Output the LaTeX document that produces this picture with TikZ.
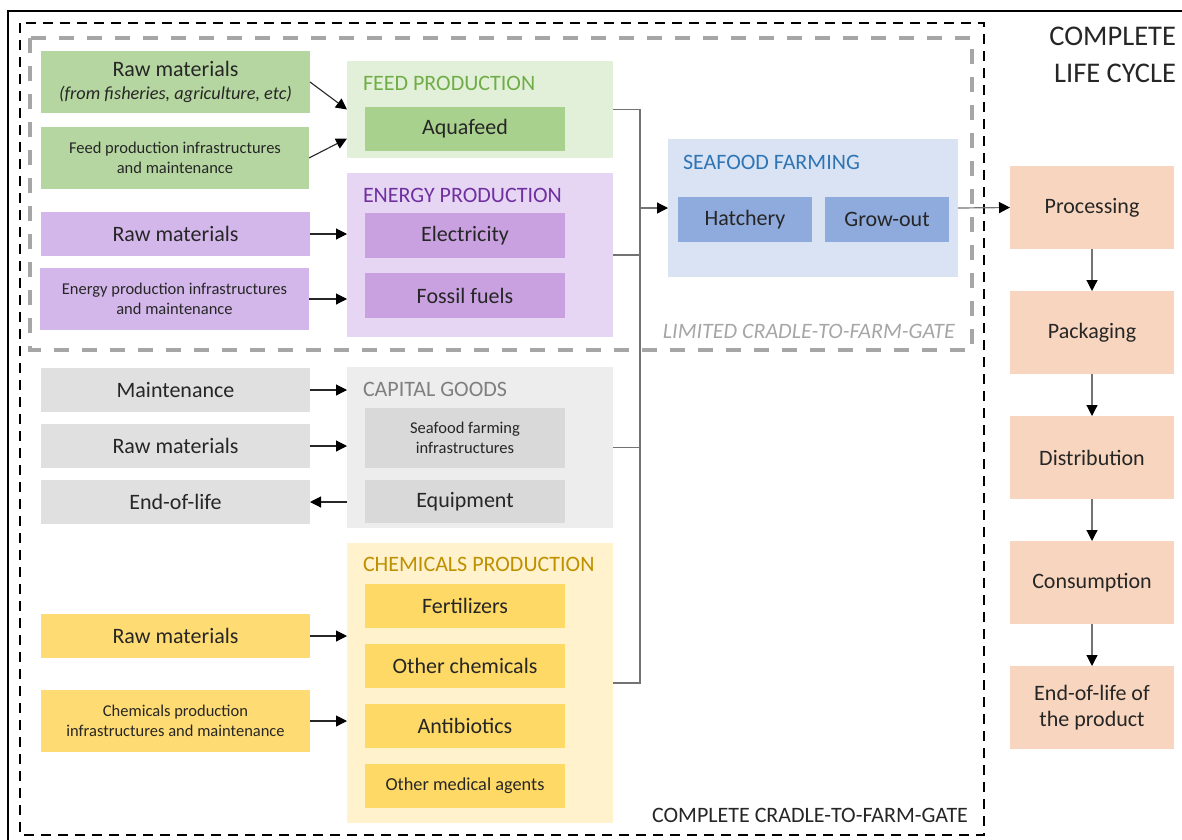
\documentclass[tikz,border=0pt]{standalone}
\usepackage{fontspec}
\setmainfont{Carlito}
\usepackage{xcolor}
\usetikzlibrary{calc}
\usetikzlibrary{positioning}
\usetikzlibrary{arrows.meta}

\definecolor{ink}{HTML}{262626}
\definecolor{feedleft}{HTML}{B5D6A0}
\definecolor{feedbox}{HTML}{A9D18E}
\definecolor{feedbg}{HTML}{E2F0D9}
\definecolor{feedink}{HTML}{70AD47}
\definecolor{energyleft}{HTML}{D4B7EA}
\definecolor{energybox}{HTML}{C9A1E0}
\definecolor{energybg}{HTML}{E6D6F4}
\definecolor{energyink}{HTML}{7030A0}
\definecolor{farmbg}{HTML}{DAE3F3}
\definecolor{farmbox}{HTML}{8FAADC}
\definecolor{farmink}{HTML}{2E75B6}
\definecolor{capleft}{HTML}{E0E0E0}
\definecolor{capbox}{HTML}{D9D9D9}
\definecolor{capbg}{HTML}{EDEDED}
\definecolor{capink}{HTML}{7F7F7F}
\definecolor{chemleft}{HTML}{FFDC73}
\definecolor{chembox}{HTML}{FFD966}
\definecolor{chembg}{HTML}{FFF2CC}
\definecolor{chemink}{HTML}{BF9000}
\definecolor{lifebox}{HTML}{F8D5BE}
\definecolor{limitgray}{HTML}{A6A6A6}

\begin{document}
\begin{tikzpicture}[x=1pt,y=-1pt,
	every node/.style={inner sep=0pt,outer sep=0pt,text=ink,font=\fontsize{22}{26}\selectfont},
	box/.style={align=center},
	small/.style={font=\fontsize{16.5}{20}\selectfont},
	grouplabel/.style={anchor=west,font=\fontsize{22}{26}\selectfont},
	arr/.style={draw=black!85,line width=1.1pt,-{Triangle[length=11pt,width=11pt,color=black]}},
	tree/.style={draw=black!55,line width=1.2pt},
	tip/.style={-{Triangle[length=11pt,width=11pt,color=black]}}]
	\useasboundingbox (0,0) rectangle (1182,839);
	
	% frames
	\draw[line width=2.8pt] (8,11) rectangle (1200,860);
	\draw[line width=2.5pt,dash pattern=on 10pt off 7pt] (20,23) rectangle (984,835);
	\draw[limitgray,line width=3.5pt,dash pattern=on 15pt off 13pt] (30,38) rectangle (972,350);
	
	% feed production
	\node[fill=feedbg,minimum width=266,minimum height=97] (feed) at (480,109.5) {};
	\node[grouplabel,text=feedink] at ($(feed.north west)+(16,22.5)$) {FEED PRODUCTION};
	\node[box,fill=feedbox,minimum width=200,minimum height=44] (aquafeed) at (465,129) {Aquafeed};
	\node[box,fill=feedleft,minimum width=269,minimum height=62] (feed raw) at (175.5,82) {\raisebox{-3pt}{Raw materials}\\[0pt]{\fontsize{18.3}{22}\selectfont\itshape (from fisheries, agriculture, etc)}};
	\node[box,small,fill=feedleft,minimum width=268,minimum height=62] (feed infra) at (175,158) {Feed production infrastructures\\and maintenance};
	
	% energy production
	\node[fill=energybg,minimum width=266,minimum height=164] (energy) at (480,255) {};
	\node[grouplabel,text=energyink] at ($(energy.north west)+(16,22.5)$) {ENERGY PRODUCTION};
	\node[box,fill=energybox,minimum width=200,minimum height=45] (electricity) at (465,235.5) {Electricity};
	\node[box,fill=energybox,minimum width=200,minimum height=45,below=15pt of electricity] (fossil) {Fossil fuels};
	\node[box,fill=energyleft,minimum width=269,minimum height=44] (energy raw) at (175.5,234) {Raw materials};
	\node[box,small,fill=energyleft,minimum width=269,minimum height=62] (energy infra) at (174.5,299) {Energy production infrastructures\\and maintenance};
	
	% seafood farming
	\node[fill=farmbg,minimum width=290,minimum height=138] (farming) at (813,208) {};
	\node[grouplabel,text=farmink] at ($(farming.north west)+(15,23)$) {SEAFOOD FARMING};
	\node[box,fill=farmbox,minimum width=134,minimum height=45] (hatchery) at (745,219.5) {Hatchery};
	\node[box,fill=farmbox,minimum width=124,minimum height=45] (growout) at (887,219.5) {Grow-out};
	
	% capital goods
	\node[fill=capbg,minimum width=266,minimum height=161] (capital) at (480,447.5) {};
	\node[grouplabel,text=capink] at ($(capital.north west)+(16,22.5)$) {CAPITAL GOODS};
	\node[box,small,fill=capbox,minimum width=200,minimum height=60] (farm infra) at (465,438) {Seafood farming\\infrastructures};
	\node[box,fill=capbox,minimum width=200,minimum height=43] (equipment) at (465,501.5) {Equipment};
	\node[box,fill=capleft,minimum width=269,minimum height=44] (maintenance) at (175.5,390) {Maintenance};
	\node[box,fill=capleft,minimum width=269,minimum height=44,below=12pt of maintenance] (cap raw) {Raw materials};
	\node[box,fill=capleft,minimum width=269,minimum height=44,below=12pt of cap raw] (cap eol) {End-of-life};
	
	% chemicals production
	\node[fill=chembg,minimum width=266,minimum height=280] (chem) at (480,683) {};
	\node[grouplabel,text=chemink] at ($(chem.north west)+(16,21.5)$) {CHEMICALS PRODUCTION};
	\node[box,fill=chembox,minimum width=200,minimum height=44] (fertilizers) at (465,606) {Fertilizers};
	\node[box,fill=chembox,minimum width=200,minimum height=44,below=16pt of fertilizers] (other chem) {Other chemicals};
	\node[box,fill=chembox,minimum width=200,minimum height=44,below=16pt of other chem] (antibiotics) {Antibiotics};
	\node[box,fill=chembox,minimum width=200,minimum height=44,below=16pt of antibiotics,font=\fontsize{18.3}{22}\selectfont] (medical) {Other medical agents};
	\node[box,fill=chemleft,minimum width=269,minimum height=44] (chem raw) at (175.5,636) {Raw materials};
	\node[box,small,fill=chemleft,minimum width=269,minimum height=62] (chem infra) at (175.5,721) {Chemicals production\\infrastructures and maintenance};
	
	% complete life cycle
	\node[box,fill=lifebox,minimum width=164,minimum height=83] (processing) at (1092,207.5) {Processing};
	\node[box,fill=lifebox,minimum width=164,minimum height=83,below=42pt of processing] (packaging) {Packaging};
	\node[box,fill=lifebox,minimum width=164,minimum height=83,below=42pt of packaging] (distribution) {Distribution};
	\node[box,fill=lifebox,minimum width=164,minimum height=83,below=42pt of distribution] (consumption) {Consumption};
	\node[box,fill=lifebox,minimum width=164,minimum height=83,below=42pt of consumption] (eol product) {End-of-life of\\the product};
	
	% boundary labels
	\node[anchor=north east,align=right,font=\fontsize{28.5}{36.7}\selectfont] (life cycle) at (1176,27.5) {COMPLETE\\LIFE CYCLE};
	\node[anchor=east] (complete gate) at (968,815) {COMPLETE CRADLE-TO-FARM-GATE};
	\node[anchor=east,text=limitgray,font=\fontsize{22}{26}\selectfont\itshape] (limited gate) at (955,331) {LIMITED CRADLE-TO-FARM-GATE};
	
	% inputs
	\draw[arr] (feed raw.east) -- (feed.west);
	\draw[arr] (feed infra.east) -- ($(feed.west)+(0,29)$);
	\draw[arr] (energy raw.east) -- (energy raw.east -| energy.west);
	\draw[arr] (energy infra.east) -- (energy infra.east -| energy.west);
	\draw[arr] (maintenance.east) -- (maintenance.east -| capital.west);
	\draw[arr] (cap raw.east) -- (cap raw.east -| capital.west);
	\draw[arr] (cap eol.east -| capital.west) -- (cap eol.east);
	\draw[arr] (chem raw.east) -- (chem raw.east -| chem.west);
	\draw[arr] (chem infra.east) -- (chem infra.east -| chem.west);
	
	% collector
	\coordinate (bus) at (640,400);
	\draw[tree] (feed.east) -| (bus) |- (chem.east);
	\draw[tree] (energy.east) -- (energy.east -| bus);
	\draw[tree] (capital.east) -- (capital.east -| bus);
	\draw[tree,tip] (bus |- farming.west) -- (farming.west);
	\draw[tree,tip] (farming.east) -- (processing.west);
	\foreach \a/\b in {processing/packaging,packaging/distribution,distribution/consumption,consumption/eol product}
		\draw[tree,tip] (\a.south) -- (\b.north);
\end{tikzpicture}
\end{document}
